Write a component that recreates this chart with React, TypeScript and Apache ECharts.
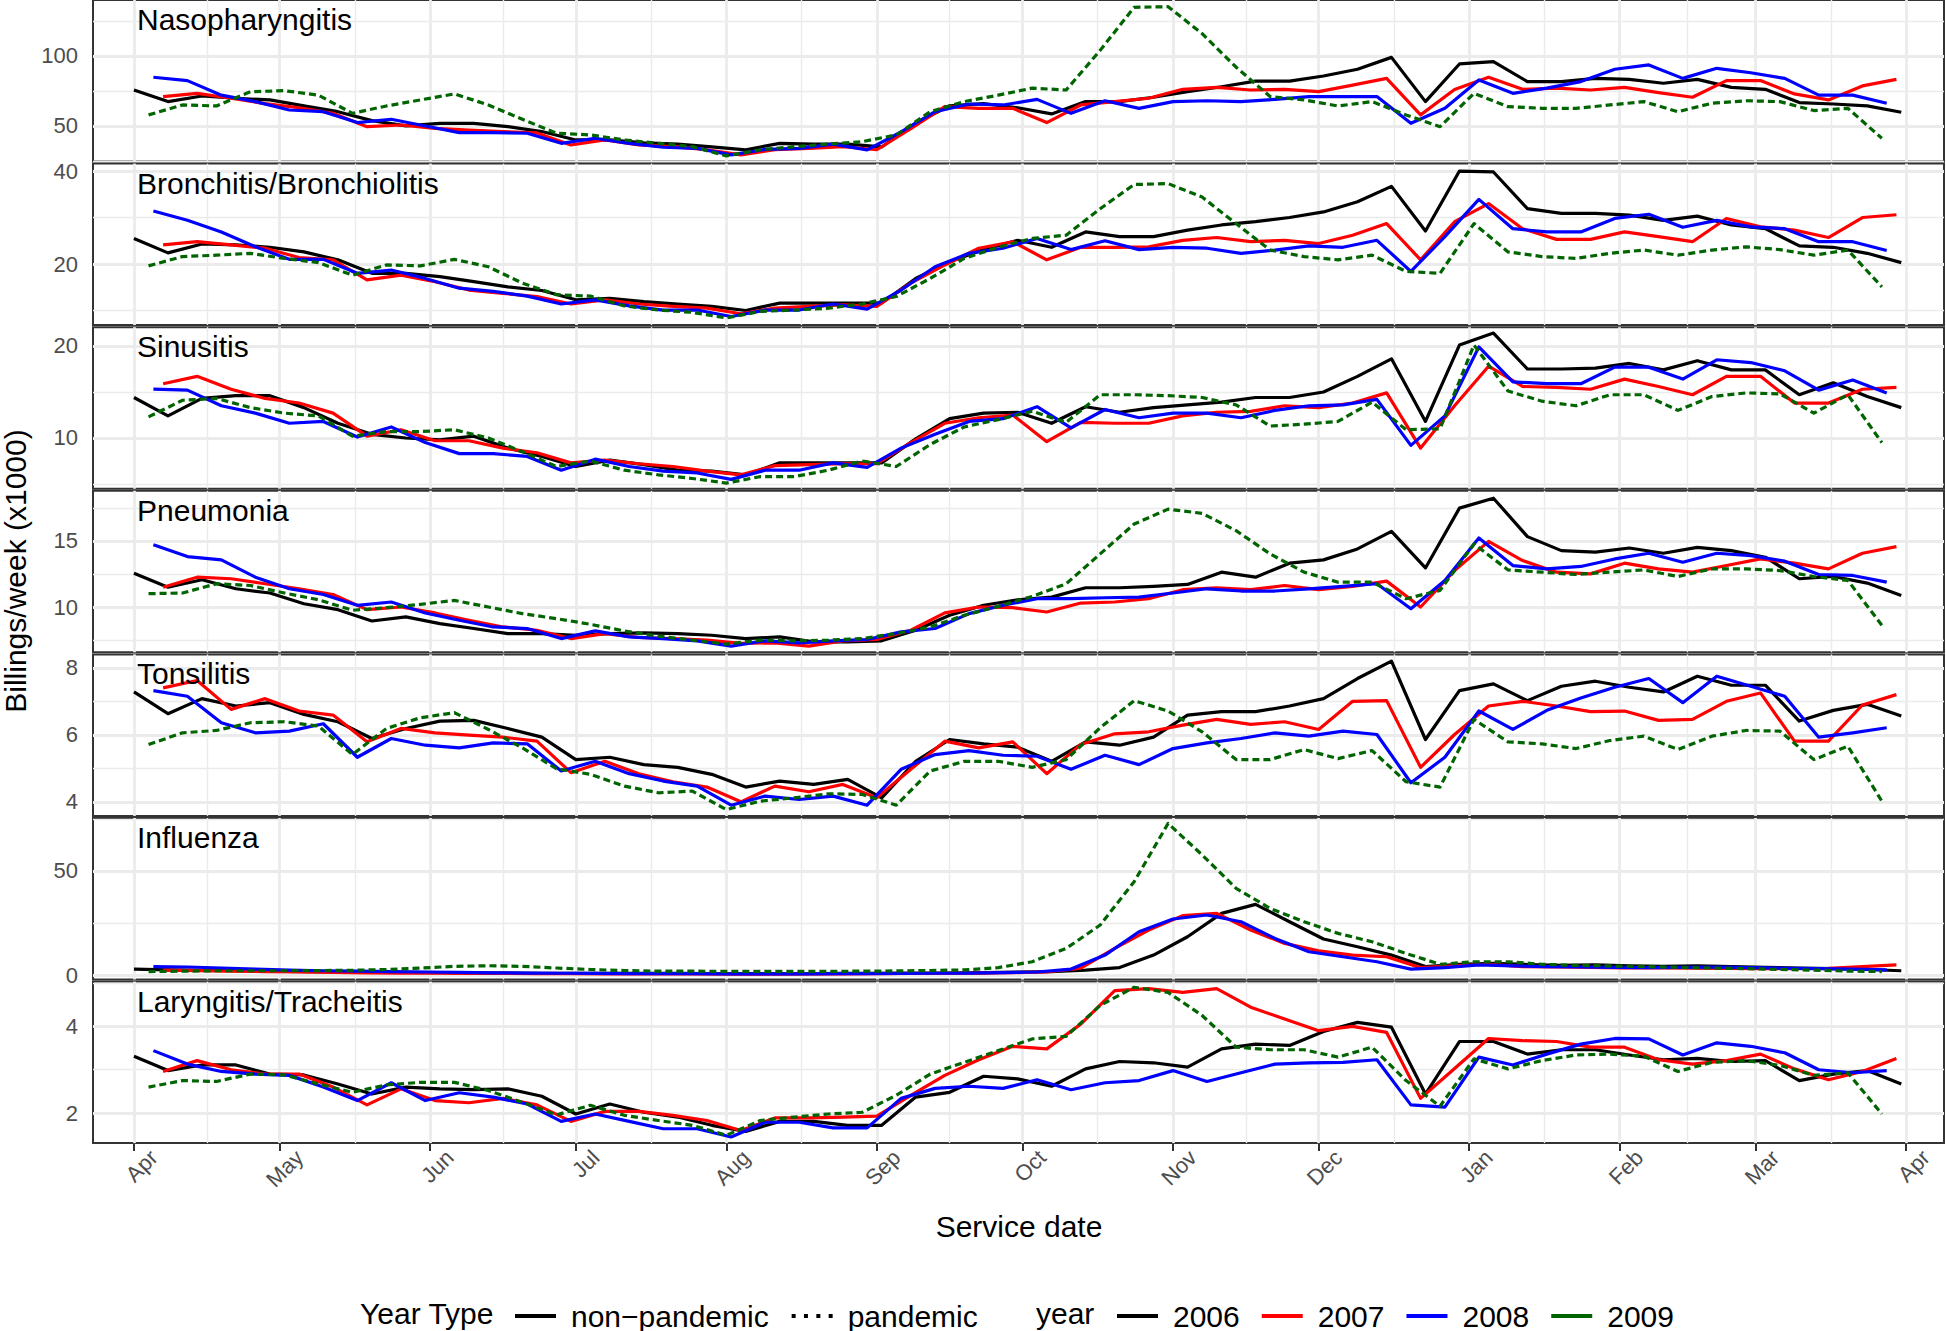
import React, { useEffect, useRef } from "react";
import * as echarts from "echarts";

// ---------------- data ----------------
const YEARS = ["2006", "2007", "2008", "2009"];
const YEAR_COLORS = ["#000000", "#ff0000", "#0000ff", "#006400"];
const YEAR_TYPE_NAMES = ["non\u2212pandemic", "pandemic"];
const YEAR_TYPE_OF_YEAR = [0, 0, 0, 1];
// week-ending Saturday of the first week of each season, in days after 1 April
const WEEK1_DAY = [0, 6, 4, 3];

const MONTH_LABELS = ["Apr", "May", "Jun", "Jul", "Aug", "Sep", "Oct", "Nov", "Dec", "Jan", "Feb", "Mar", "Apr"];
const MONTH_DAYS = [0, 30, 61, 91, 122, 153, 183, 214, 244, 275, 306, 334, 365];
const MID_MONTH_DAYS = [15, 45.5, 76, 106.5, 137.5, 168, 198.5, 229, 259.5, 290.5, 320, 349.5];

const PANEL_NAMES = [
  "Nasopharyngitis",
  "Bronchitis/Bronchiolitis",
  "Sinusitis",
  "Pneumonia",
  "Tonsilitis",
  "Influenza",
  "Laryngitis/Tracheitis",
];
const Y_MIN = [24.6, 6.86, 4.49, 6.57, 3.58, -2.0, 1.31];
const Y_MAX = [140, 41.6, 22.04, 18.8, 8.4, 75.4, 5.03];
const Y_MAJOR = [[50, 100], [20, 40], [10, 20], [10, 15], [4, 6, 8], [0, 50], [2, 4]];
const Y_MINOR = [[25, 75, 125], [10, 30], [5, 15], [7.5, 12.5, 17.5], [5, 7], [25, 75], [3, 5]];

const naso2006 = [75.7,67.4,71.4,69.8,68.6,64.3,60.2,53.8,50,51.9,51.9,49.5,46,40,40,38,37,35,32.9,37.6,37,37,35,52,64.3,66,63,58.6,67.4,67.4,70.5,74.5,78,82,82,85.7,90.5,99,67.4,94.3,96,81.7,81.7,84,83.3,80.5,83.3,77.6,76.2,66.7,65.7,64.3,59.8];
const naso2007 = [71,73.3,69.8,66,63,59,49.5,50.7,48.3,47,46,45,36.4,40,36.4,35.2,33,29.3,33,34,35.2,33,48,63.8,62.6,62.6,52.4,65,67.4,69.8,76.2,77.6,75.7,76.2,74.5,79.2,84,57.9,76,84.8,76.2,77,75.7,77.6,73.8,70.5,82.4,82.4,72.9,68.6,78.6,83.3];
const naso2008 = [84.8,82.4,72,67.4,61.4,60.2,52.4,54.8,50,45.2,45.2,44.8,37.6,41.2,37.6,34.8,34,29.3,33.3,34,37,32.9,45.7,60.2,65.7,65,69,59,68,62.6,67.4,68,67.4,69,71,71,71,51.9,62.6,82.9,73.3,77,81.7,90.5,93.6,84,91.2,88,84,72,72,66.2];
const naso2009 = [57.9,65,64.3,74.5,75.2,72,59,64.3,68.6,72.9,65,54.8,44.8,43.6,40,37.6,35.2,28.6,33,35.2,37,38.8,43.6,60.2,67.4,72,77,75.7,104,134.8,135.2,116,92,71,68.6,64.3,67.4,57.9,49.5,73.3,63.8,62.6,62.6,65,67.4,60.2,66.2,68,67.4,61,62.6,41.2];

const bron2006 = [25.5,22.4,24.3,24.1,23.6,22.6,20.9,18,18,17.3,16.2,15.1,14.3,12.3,12.6,11.9,11.4,10.9,10,11.6,11.6,11.6,11.6,16.9,20.5,23.1,25.1,23.6,26.9,25.9,25.9,27.3,28.4,29.1,30,31.2,33.4,36.7,27.1,40,39.8,31.9,30.9,30.9,30.5,29.4,30.3,28.4,27.6,23.9,23.6,22.3,20.3];
const bron2007 = [24.1,24.8,24.1,23.4,21.4,20.9,16.6,17.6,16.2,14.4,13.7,13,11.4,12.3,11.4,10.9,10.5,9.3,10.5,10.9,11.2,10.9,15.9,19.8,23.4,24.8,20.9,23.6,23.6,23.7,25.1,25.7,24.8,25.1,24.4,26.2,28.7,20.9,29.1,33,27.6,25.3,25.3,26.9,25.9,24.8,29.8,28,27.3,25.7,30,30.6];
const bron2008 = [31.4,29.4,26.9,23.7,21,21,18,18.7,16.9,14.8,14.1,13.1,11.4,12.3,11,10.1,10.1,8.7,10.1,10.1,11.4,10.3,14.4,19.4,22.3,23.4,25.5,23.1,25,23.1,23.6,23.4,22.3,23,23.9,23.6,25.1,18.4,25.9,33.9,27.6,26.9,26.9,29.8,30.7,27.9,29.4,28,27.6,24.8,24.8,22.9];
const bron2009 = [19.6,21.6,21.9,22.3,21.2,20.3,17.6,19.8,19.6,21,19.4,15.9,13.4,13.1,11,10.1,9.6,8.4,9.8,10.1,10.5,11.4,13,16.9,21.2,23.6,25.5,26.2,31.9,37.1,37.3,34.4,28.7,23,21.6,20.9,21.9,18.4,18,28.7,22.6,21.6,21.2,22.3,23,21.9,23,23.7,23.1,21.9,23,15.1];

const sinu2006 = [14.4,12.4,14.3,14.6,14.6,13.3,11.6,10.4,10,9.8,10.2,8.9,8,6.9,7.6,7.1,6.5,6.4,6,7.3,7.3,7.3,7.3,9.9,12.1,12.7,12.8,11.6,13.4,12.8,13.3,13.6,13.9,14.4,14.4,15,16.7,18.6,11.8,20.1,21.4,17.5,17.5,17.6,18.1,17.4,18.4,17.4,17.4,14.7,16,14.5,13.3];
const sinu2007 = [15.9,16.7,15.3,14.3,13.8,12.7,10.2,10.9,9.7,9.7,8.9,8.4,7.3,7.6,7.2,6.9,6.4,6,7,7.1,7.2,7.2,9.5,11.6,12.2,12.5,9.6,11.7,11.6,11.6,12.4,12.8,12.9,13.5,13.3,13.8,14.9,8.9,13.5,17.8,15.6,15.5,15.3,16.4,15.6,14.7,16.7,16.7,13.8,13.8,15.3,15.5];
const sinu2008 = [15.3,15.2,13.5,12.7,11.6,11.8,10.1,11.2,9.5,8.3,8.3,8,6.5,7.7,6.9,6.4,6.2,5.5,6.5,6.5,7.3,6.8,8.9,10.4,11.8,12.1,13.4,11.1,13.1,12.2,12.7,12.7,12.2,13,13.5,13.6,14.2,9.2,12.4,19.9,16.1,15.9,15.9,17.7,17.7,16.4,18.5,18.2,17.3,15.2,16.3,14.9];
const sinu2009 = [12.3,14.1,14.3,13.3,12.7,12.4,10.2,10.7,10.7,10.9,10,8.5,6.9,7.5,6.5,6,5.6,5.1,5.8,5.8,6.5,7.5,6.9,9.3,11.2,12,12.9,11.7,14.7,14.7,14.6,14.4,13.6,11.3,11.5,11.8,13.9,10.9,11,20.1,15.1,14,13.5,14.7,14.7,13,14.5,14.9,14.8,12.7,14.7,9.5];

const pneu2006 = [12.56,11.5,12.06,11.38,11.06,10.25,9.8,8.94,9.25,8.74,8.37,7.99,7.99,7.86,7.99,8.04,7.99,7.86,7.61,7.74,7.36,7.36,7.44,8.24,9.37,10.13,10.55,10.75,11.46,11.46,11.56,11.71,12.64,12.26,13.32,13.57,14.4,15.73,12.96,17.49,18.24,15.33,14.27,14.15,14.47,14.07,14.52,14.27,13.77,12.14,12.31,11.81,10.88];
const pneu2007 = [11.5,12.26,12.14,11.76,11.38,10.95,9.8,10,9.55,9,8.49,8.24,7.61,7.99,7.69,7.61,7.49,7.24,7.29,7.04,7.44,7.54,8.24,9.55,10,9.95,9.62,10.3,10.38,10.63,11.31,11.46,11.31,11.63,11.31,11.56,11.96,10,12.76,14.97,13.52,12.64,12.51,13.32,12.89,12.64,13.14,13.64,13.32,12.89,14.07,14.57];
const pneu2008 = [14.72,13.82,13.57,12.26,11.38,10.95,10.13,10.38,9.55,9,8.49,8.37,7.61,8.19,7.74,7.61,7.44,7.04,7.44,7.29,7.44,7.54,8.12,8.37,9.5,10.13,10.63,10.63,10.7,10.75,11.06,11.38,11.21,11.21,11.38,11.56,11.76,9.87,12.01,15.23,13.14,12.89,13.07,13.64,14.07,13.39,14.07,13.89,13.47,12.46,12.39,11.88];
const pneu2009 = [11.01,11.06,11.76,11.63,11.06,10.55,9.75,9.95,10.2,10.5,10,9.5,9.12,8.69,8.19,7.79,7.49,7.19,7.49,7.44,7.49,7.61,7.99,8.49,9.37,10.05,10.8,11.76,14.02,16.28,17.41,17.09,15.78,14.02,12.64,11.88,11.88,10.63,11.26,14.77,12.81,12.64,12.46,12.64,12.81,12.31,12.89,12.89,12.76,12.31,12.01,8.62];

const tons2006 = [7.28,6.63,7.08,6.86,6.96,6.61,6.39,5.89,6.19,6.41,6.43,6.19,5.93,5.26,5.33,5.11,5.03,4.82,4.44,4.62,4.52,4.67,4.12,5.21,5.86,5.73,5.63,5.21,5.79,5.69,5.93,6.59,6.69,6.69,6.86,7.08,7.68,8.2,5.86,7.32,7.52,7.02,7.45,7.6,7.42,7.28,7.75,7.48,7.48,6.41,6.73,6.91,6.56];
const tons2007 = [7.4,7.62,6.76,7.08,6.71,6.59,5.79,6.19,6.06,5.99,5.93,5.81,4.87,5.21,4.84,4.6,4.44,4,4.47,4.3,4.52,4.12,4.97,5.81,5.61,5.79,4.84,5.71,6.03,6.09,6.29,6.46,6.31,6.39,6.16,7,7.02,5.03,6.01,6.86,7,6.86,6.69,6.71,6.43,6.46,7,7.25,5.81,5.81,6.89,7.2];
const tons2008 = [7.32,7.15,6.36,6.06,6.11,6.33,5.33,5.89,5.69,5.61,5.76,5.73,4.92,5.21,4.84,4.62,4.47,3.9,4.17,4.07,4.17,3.9,4.97,5.41,5.53,5.39,5.36,4.97,5.39,5.11,5.59,5.76,5.89,6.06,5.96,6.11,6.01,4.57,5.33,6.71,6.16,6.73,7.1,7.42,7.68,6.96,7.75,7.45,7.15,5.93,6.06,6.21];
const tons2009 = [5.71,6.06,6.13,6.36,6.39,6.26,5.41,6.19,6.51,6.66,6.16,5.61,4.99,4.82,4.47,4.27,4.32,3.77,4.02,4.12,4.24,4.22,3.9,4.92,5.21,5.21,5.03,5.26,6.21,7.02,6.71,6.09,5.26,5.26,5.56,5.29,5.53,4.6,4.44,6.46,5.79,5.73,5.59,5.83,5.96,5.56,5.96,6.13,6.11,5.26,5.66,4.02];

const flu2006 = [3,2.6,2.4,2.2,2,1.8,1.6,1.5,1.4,1.3,1.2,1.1,1,1,0.9,0.9,0.9,0.8,0.8,0.8,0.8,0.9,0.9,1,1.1,1.3,1.5,1.8,2.5,3.7,9.7,18.5,29.7,34,25.7,17.4,13.7,9.7,4.2,5.3,5.8,5.2,4.8,5,4.5,4.3,4.6,4.2,3.8,3.5,3.2,2.8,2.2];
const flu2007 = [2.5,2.3,2,1.8,1.6,1.4,1.2,1.1,1,0.9,0.9,0.8,0.8,0.7,0.7,0.7,0.7,0.6,0.6,0.7,0.7,0.8,0.9,1,1.1,1.3,1.6,3.4,12.9,21.7,28.6,29.7,21.7,15.3,11.7,9.7,8.9,3.7,4.6,5.3,4.2,4,3.8,3.6,3.5,3.4,3.3,3.2,3.2,3.3,4.2,5];
const flu2008 = [4.2,4,3.5,3,2.5,2.2,2,1.8,1.6,1.4,1.2,1.1,1,0.9,0.8,0.8,0.8,0.7,0.7,0.7,0.8,0.8,0.9,1,1.1,1.3,1.6,3,9.7,20.9,27,28.9,25.7,17.7,11.3,8.9,6.5,3,3.7,5,4.5,4.2,4,3.8,3.7,3.8,3.9,3.7,3.4,3.2,3,2.6];
const flu2009 = [1.8,2,2.2,2.2,2.2,2.3,2.4,2.8,3.5,4.3,4.6,4.3,3.5,2.8,2.3,2,2,1.9,1.9,1.9,1.9,2,2.1,2.3,2.6,3.7,6.5,12.9,24.1,44.9,72.8,57.7,41.7,32.1,25.7,20.1,16.1,10.5,5.3,6.5,6.5,5.3,4.8,4.5,4.2,3.8,3.5,3.2,2.8,2.5,2,1.8];

const lary2006 = [3.31,2.98,3.11,3.11,2.9,2.88,2.67,2.44,2.6,2.56,2.54,2.56,2.39,1.98,2.21,2.02,1.91,1.72,1.58,1.81,1.81,1.72,1.72,2.37,2.48,2.85,2.79,2.62,3.02,3.19,3.16,3.06,3.48,3.59,3.56,3.88,4.09,3.98,2.44,3.65,3.65,3.36,3.46,3.46,3.34,3.23,3.26,3.19,3.21,2.75,2.9,2.98,2.67];
const lary2007 = [2.96,3.21,3,2.9,2.9,2.6,2.19,2.56,2.29,2.24,2.34,2.19,1.81,2.04,2.04,1.95,1.83,1.6,1.89,1.89,1.91,1.93,2.41,2.87,3.23,3.54,3.48,4.05,4.82,4.87,4.78,4.87,4.44,4.17,3.9,4,3.86,2.34,3.03,3.72,3.67,3.65,3.52,3.52,3.23,3.13,3.21,3.36,3.02,2.77,2.96,3.26];
const lary2008 = [3.44,3.13,2.96,2.9,2.87,2.6,2.29,2.7,2.29,2.47,2.37,2.21,1.81,1.98,1.81,1.64,1.64,1.45,1.79,1.79,1.66,1.66,2.34,2.57,2.62,2.57,2.77,2.54,2.7,2.75,2.98,2.73,2.93,3.13,3.16,3.17,3.23,2.19,2.14,3.29,3.11,3.36,3.59,3.72,3.71,3.34,3.62,3.54,3.39,3,2.93,2.98];
const lary2009 = [2.6,2.75,2.73,2.9,2.88,2.67,2.48,2.65,2.71,2.71,2.52,2.25,1.96,2.18,1.95,1.83,1.72,1.49,1.83,1.91,1.98,2.02,2.41,2.9,3.17,3.44,3.71,3.77,4.48,4.9,4.78,4.25,3.52,3.46,3.46,3.29,3.52,2.75,2.16,3.25,3.02,3.21,3.34,3.36,3.31,2.96,3.17,3.21,3.1,2.87,2.93,1.98];

const PANEL_DATA = [
  [naso2006, naso2007, naso2008, naso2009],
  [bron2006, bron2007, bron2008, bron2009],
  [sinu2006, sinu2007, sinu2008, sinu2009],
  [pneu2006, pneu2007, pneu2008, pneu2009],
  [tons2006, tons2007, tons2008, tons2009],
  [flu2006, flu2007, flu2008, flu2009],
  [lary2006, lary2007, lary2008, lary2009],
];

// ---------------- layout ----------------
const W = 1946;
const H = 1331;
const GRID_LEFT = 93;
const GRID_W = 1851;
const GRID_STEP = 163.6;
const GRID_H = 161.5;
const X_MIN = -8.44;
const X_MAX = 372.8;
const FONT = "'Liberation Sans', Arial, Helvetica, sans-serif";
const DOT_ICON = "path://M0,0h4v4h-4z M12.3,0h4v4h-4z M24.7,0h4v4h-4z M37,0h4v4h-4z";

function nearestMonthLabel(v: number) {
  let best = 0;
  MONTH_DAYS.forEach((d, i) => {
    if (Math.abs(d - v) < Math.abs(MONTH_DAYS[best] - v)) best = i;
  });
  return MONTH_LABELS[best];
}

function buildOption() {
  const grid: any[] = [];
  const xAxis: any[] = [];
  const yAxis: any[] = [];
  const series: any[] = [];
  const graphic: any[] = [];

  PANEL_NAMES.forEach((name, p) => {
    const top = p * GRID_STEP;
    const isBottom = p === PANEL_NAMES.length - 1;
    grid.push({
      left: GRID_LEFT,
      top,
      width: GRID_W,
      height: GRID_H,
      show: true,
      backgroundColor: "#ffffff",
      borderColor: "#333333",
      borderWidth: 2,
      z: 0,
    });
    xAxis.push({
      type: "value",
      gridIndex: p,
      min: X_MIN,
      max: X_MAX,
      axisLine: { show: false },
      splitLine: { show: false },
      axisTick: {
        show: isBottom,
        customValues: MONTH_DAYS,
        length: 8,
        lineStyle: { color: "#333333", width: 2 },
      },
      axisLabel: {
        show: isBottom,
        customValues: MONTH_DAYS,
        rotate: 45,
        align: "right",
        verticalAlign: "top",
        padding: [17, 0, 0, 0],
        margin: -9,
        color: "#4d4d4d",
        fontSize: 22,
        fontFamily: FONT,
        formatter: (v: number) => nearestMonthLabel(v),
      },
    });
    yAxis.push({
      type: "value",
      gridIndex: p,
      min: Y_MIN[p],
      max: Y_MAX[p],
      axisLine: { show: false },
      splitLine: { show: false },
      axisTick: {
        show: true,
        customValues: Y_MAJOR[p],
        length: 8,
        lineStyle: { color: "#333333", width: 2 },
      },
      axisLabel: {
        customValues: Y_MAJOR[p],
        margin: 15,
        color: "#4d4d4d",
        fontSize: 22,
        fontFamily: FONT,
      },
    });

    // panel grid lines (ggplot theme_bw style), drawn through the axes
    const minorStyle = { color: "#ebebeb", width: 1.4, type: "solid" };
    const majorStyle = { color: "#ebebeb", width: 2.8, type: "solid" };
    const lines: any[] = [];
    MID_MONTH_DAYS.forEach((d) => lines.push({ xAxis: d, lineStyle: minorStyle }));
    Y_MINOR[p].forEach((v) => {
      if (v > Y_MIN[p] && v < Y_MAX[p]) lines.push({ yAxis: v, lineStyle: minorStyle });
    });
    MONTH_DAYS.forEach((d) => lines.push({ xAxis: d, lineStyle: majorStyle }));
    Y_MAJOR[p].forEach((v) => lines.push({ yAxis: v, lineStyle: majorStyle }));
    series.push({
      type: "line",
      name: "_grid" + p,
      xAxisIndex: p,
      yAxisIndex: p,
      data: [[X_MIN, Y_MIN[p]]],
      symbol: "none",
      silent: true,
      lineStyle: { opacity: 0 },
      z: 1,
      markLine: {
        silent: true,
        symbol: ["none", "none"],
        label: { show: false },
        z: 1,
        emphasis: { disabled: true },
        data: lines,
      },
    });

    PANEL_DATA[p].forEach((vals, y) => {
      const pandemic = YEAR_TYPE_OF_YEAR[y] === 1;
      series.push({
        type: "line",
        name: YEARS[y],
        xAxisIndex: p,
        yAxisIndex: p,
        data: vals.map((v, i) => [WEEK1_DAY[y] + 7 * i, v]),
        symbol: "none",
        silent: true,
        z: 3 + y,
        itemStyle: { color: YEAR_COLORS[y] },
        lineStyle: {
          color: YEAR_COLORS[y],
          width: 3.2,
          type: pandemic ? [7, 4] : "solid",
          join: "round",
        },
      });
    });

    graphic.push({
      type: "text",
      x: 137,
      y: top + 19.5,
      z: 10,
      style: {
        text: name,
        fill: "#000000",
        fontSize: 30,
        fontFamily: FONT,
        verticalAlign: "middle",
        align: "left",
      },
    });
  });

  // dummy series for the "Year Type" legend
  YEAR_TYPE_NAMES.forEach((n, i) => {
    series.push({
      type: "line",
      name: n,
      xAxisIndex: 0,
      yAxisIndex: 0,
      data: [],
      symbol: "none",
      itemStyle: { color: "#000000" },
      lineStyle: { color: "#000000", width: 4, type: i === 1 ? [4, 8] : "solid" },
    });
  });

  const textStyleBase = { fill: "#000000", fontSize: 30, fontFamily: FONT };
  graphic.push(
    {
      type: "text",
      x: 15,
      y: 571,
      rotation: Math.PI / 2,
      style: { ...textStyleBase, text: "Billings/week (x1000)", align: "center", verticalAlign: "middle" },
    },
    {
      type: "text",
      x: 1019,
      y: 1226,
      style: { ...textStyleBase, text: "Service date", align: "center", verticalAlign: "middle" },
    },
    {
      type: "text",
      x: 360,
      y: 1313,
      style: { ...textStyleBase, text: "Year Type", align: "left", verticalAlign: "middle" },
    },
    {
      type: "text",
      x: 1036,
      y: 1313,
      style: { ...textStyleBase, text: "year", align: "left", verticalAlign: "middle" },
    }
  );

  const legendText = {
    fontSize: 30,
    color: "#000000",
    fontFamily: FONT,
    padding: [0, 0, 0, 10],
  };

  return {
    animation: false,
    backgroundColor: "#ffffff",
    grid,
    xAxis,
    yAxis,
    series,
    graphic,
    legend: [
      {
        left: 510,
        top: 1296,
        itemWidth: 41,
        itemHeight: 4,
        itemGap: 23,
        selectedMode: false,
        textStyle: legendText,
        lineStyle: { width: 4 },
        data: [
          { name: YEAR_TYPE_NAMES[0], icon: "rect" },
          { name: YEAR_TYPE_NAMES[1], icon: DOT_ICON },
        ],
      },
      {
        left: 1112,
        top: 1296,
        itemWidth: 41,
        itemHeight: 4,
        itemGap: 22,
        selectedMode: false,
        textStyle: legendText,
        lineStyle: { width: 4, type: "solid" },
        data: YEARS.map((y) => ({ name: y, icon: "rect" })),
      },
    ],
  };
}

export default function App() {
  const ref = useRef<HTMLDivElement>(null);
  useEffect(() => {
    document.body.style.margin = "0";
    if (!ref.current) return;
    const chart = echarts.init(ref.current, undefined, { renderer: "svg" });
    chart.setOption(buildOption() as any);
    return () => chart.dispose();
  }, []);
  return <div ref={ref} style={{ width: W, height: H }} />;
}
